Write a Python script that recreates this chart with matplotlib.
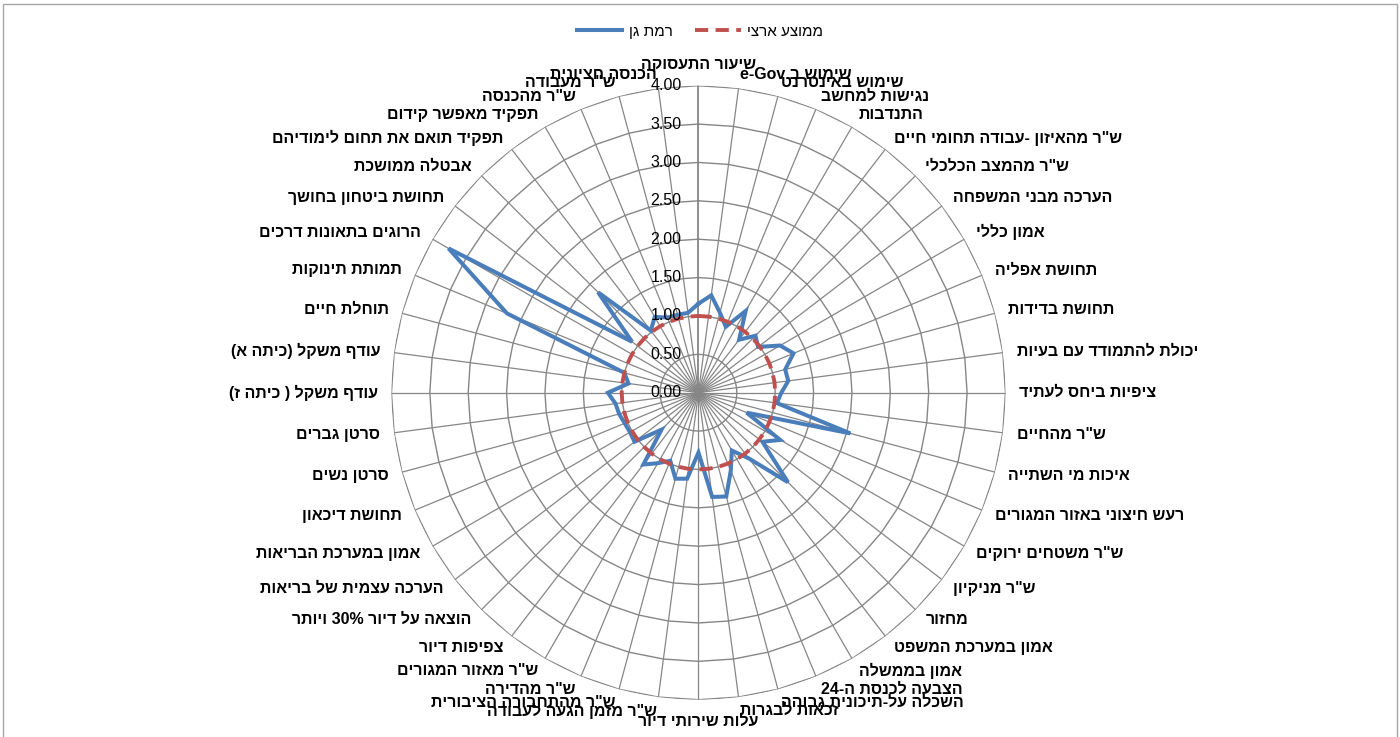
import re
import numpy as np
import matplotlib
matplotlib.use("Agg")
import matplotlib.pyplot as plt
import matplotlib.transforms as mtransforms
from matplotlib.patches import Rectangle

plt.rcParams['font.family'] = ['Liberation Sans', 'DejaVu Sans']

# categories clockwise from the top
categories = [
    'שיעור התעסוקה', 'שימוש ב e-Gov', 'שימוש באינטרנט', 'נגישות למחשב', 'התנדבות',
    'ש"ר מהאיזון -עבודה תחומי חיים', 'ש"ר מהמצב הכלכלי', 'הערכה מבני המשפחה', 'אמון כללי',
    'תחושת אפליה', 'תחושת בדידות', 'יכולת להתמודד עם בעיות', 'ציפיות ביחס לעתיד',
    'ש"ר מהחיים', 'איכות מי השתייה', 'רעש חיצוני באזור המגורים', 'ש"ר משטחים ירוקים',
    'ש"ר מניקיון', 'מחזור', 'אמון במערכת המשפט', 'אמון בממשלה', 'הצבעה לכנסת ה-24',
    'השכלה על-תיכונית גבוהה', 'זכאות לבגרות', 'עלות שירותי דיור', 'ש"ר מזמן הגעה לעבודה',
    'ש"ר מהתחבורה הציבורית', 'ש"ר מהדירה', 'ש"ר מאזור המגורים', 'צפיפות דיור',
    'הוצאה על דיור 30% ויותר', 'הערכה עצמית של בריאות', 'אמון במערכת הבריאות',
    'תחושת דיכאון', 'סרטן נשים', 'סרטן גברים', 'עודף משקל ( כיתה ז)', 'עודף משקל (כיתה א)',
    'תוחלת חיים', 'תמותת תינוקות', 'הרוגים בתאונות דרכים', 'תחושת ביטחון בחושך',
    'אבטלה ממושכת', 'תפקיד תואם את תחום לימודיהם', 'תפקיד מאפשר קידום', 'ש"ר מהכנסה',
    'ש"ר מעבודה', 'הכנסה חציונית',
]

ramat_gan = [
    1.16, 1.28, 1.08, 0.93, 1.23, 0.87, 1.05, 0.98, 1.23, 1.34, 1.17, 1.18,
    1.08, 1.03, 2.05, 0.68, 1.23, 1.05, 1.65, 1.08, 0.87, 1.10, 1.40, 1.37,
    0.78, 1.13, 1.16, 0.96, 1.06, 1.18, 0.68, 1.05, 1.03, 1.04, 1.07, 1.09,
    1.18, 0.92, 1.00, 2.70, 3.76, 1.09, 1.85, 1.02, 1.14, 1.06, 1.05, 1.05,
]

national_avg = [
    1.0, 1.0, 1.0, 1.0, 1.0, 1.0, 1.0, 1.0, 1.0, 1.0, 1.0, 1.0,
    1.0, 1.0, 1.0, 1.0, 1.0, 1.0, 1.0, 1.0, 1.0, 1.0, 1.0, 1.0,
    1.0, 1.0, 1.0, 1.0, 1.0, 1.0, 1.0, 1.0, 1.0, 1.0, 1.0, 1.0,
    1.0, 1.0, 1.0, 1.0, 1.0, 1.0, 1.0, 1.0, 1.0, 1.0, 1.0, 1.0,
]

r_ticks = [0.0, 0.5, 1.0, 1.5, 2.0, 2.5, 3.0, 3.5, 4.0]


def rtl(s):
    # crude visual reordering for hebrew: flip, mirror brackets, keep latin/digit runs LTR
    r = s[::-1].translate(str.maketrans('()', ')('))
    return re.sub(r'[A-Za-z0-9%]+(?:[-.][A-Za-z0-9%]+)*', lambda m: m.group(0)[::-1], r)


GRID = '#868686'
BLUE = '#4A7EBB'
RED = '#C0504D'

fig = plt.figure(figsize=(14, 7.37), dpi=100)
ax = fig.add_axes([0.2796, 0.0506, 0.4386, 0.8331], projection='polar')
ax.set_theta_zero_location('N')
ax.set_theta_direction(-1)
ax.set_ylim(0, 4)
ax.grid(False)
ax.set_xticks([])
ax.set_yticks([])
ax.spines['polar'].set_visible(False)

n = len(categories)
theta = np.deg2rad(np.arange(n) * 360.0 / n)
theta_c = np.append(theta, theta[0])

# polygon grid + spokes
for r in r_ticks[1:]:
    ax.plot(theta_c, [r] * (n + 1), color=GRID, lw=1.0, zorder=1)
for i, t in enumerate(theta):
    ax.plot([t, t], [0, 4], color=GRID, lw=1.3 if i == 0 else 0.9, zorder=1)

ax.plot(theta_c, ramat_gan + ramat_gan[:1], color=BLUE, lw=2.9, zorder=3,
        solid_joinstyle='miter', label=rtl('רמת גן'))
ax.plot(theta_c, national_avg + national_avg[:1], color=RED, lw=2.8, zorder=4,
        dashes=(3.4, 1.9), label=rtl('ממוצע ארצי'))

# radial value labels left of the top spoke
off = mtransforms.offset_copy(ax.transData, fig=fig, x=-17, y=0, units='dots')
for r in r_ticks:
    ax.text(0, r, f'{r:.2f}', transform=off, ha='right', va='center',
            fontsize=11.5, color='black', zorder=6)

# category labels
for t, lab in zip(np.rad2deg(theta), categories):
    if t == 0:
        ha, va = 'center', 'bottom'
    elif t == 180:
        ha, va = 'center', 'top'
    elif t < 180:
        ha, va = 'left', 'center'
    else:
        ha, va = 'right', 'center'
    ax.text(np.deg2rad(t), 4.18, rtl(lab), ha=ha, va=va, fontsize=11.5,
            fontweight='bold', color='black')

fig.legend(loc='upper center', bbox_to_anchor=(0.5, 0.985), ncol=2, frameon=False,
           fontsize=11, handlelength=3.0, handletextpad=0.4, columnspacing=1.5)

fig.patches.append(Rectangle((0.002, -0.05), 0.996, 1.045, transform=fig.transFigure,
                             fill=False, edgecolor='#A6A6A6', lw=1.0))

fig.savefig('out.png', dpi=100)
